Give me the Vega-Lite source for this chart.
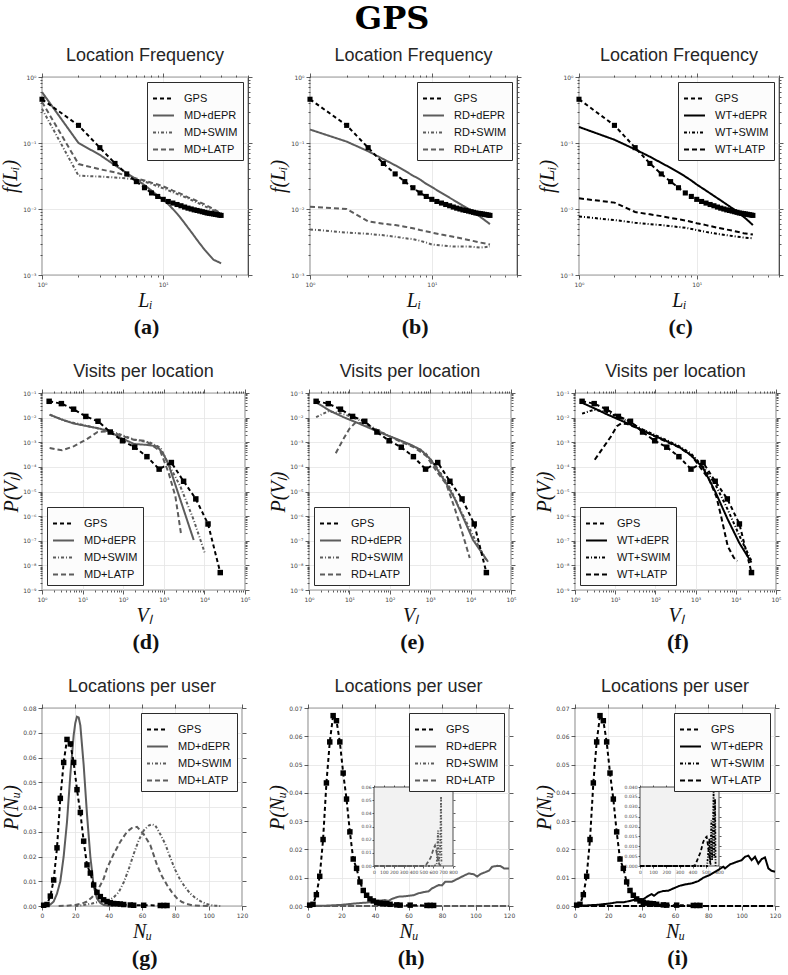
{
"$schema":"https://vega.github.io/schema/vega-lite/v6.json",
"background":"white",
"padding":{"left":0,"top":3,"right":4,"bottom":4},
"title":{"text":"GPS","font":"DejaVu Serif","fontSize":32,"fontWeight":"bold","color":"#000000","anchor":"middle","offset":10},
"config":{
 "view":{"stroke":"#3a3a3a","strokeWidth":1.2},
 "axis":{"domain":false,"gridColor":"#e4e4e4","gridWidth":0.8,"tickColor":"#333333","tickWidth":0.8,"labelFont":"DejaVu Sans","labelFontSize":6,"labelColor":"#444444","labelPadding":2,"titleFont":"Liberation Serif","titleFontStyle":"italic","titleFontWeight":"normal","titleFontSize":20,"titleColor":"#111111","titlePadding":2},
 "title":{"font":"Liberation Sans","fontSize":18,"fontWeight":"normal","color":"#262626"},
 "legend":{"offset":5,"padding":5,"fillColor":"#fcfcfc","strokeColor":"#2b2b2b","labelFont":"Liberation Sans","labelFontSize":11,"labelColor":"#111111","symbolType":"stroke","symbolStrokeWidth":2,"symbolSize":440,"labelOffset":9,"rowPadding":-3}
},
"datasets":{
"gpsLF":[{"s":"GPS","x":1,"y":0.46},{"s":"GPS","x":2,"y":0.185},{"s":"GPS","x":3,"y":0.085},{"s":"GPS","x":4,"y":0.049},{"s":"GPS","x":5,"y":0.034},{"s":"GPS","x":6,"y":0.026},{"s":"GPS","x":7,"y":0.021},{"s":"GPS","x":8,"y":0.0175},{"s":"GPS","x":9,"y":0.0155},{"s":"GPS","x":10,"y":0.014},{"s":"GPS","x":11,"y":0.013},{"s":"GPS","x":12,"y":0.0123},{"s":"GPS","x":13,"y":0.0117},{"s":"GPS","x":14,"y":0.0112},{"s":"GPS","x":15,"y":0.0107},{"s":"GPS","x":16,"y":0.0103},{"s":"GPS","x":17,"y":0.01},{"s":"GPS","x":18,"y":0.0097},{"s":"GPS","x":19,"y":0.0095},{"s":"GPS","x":20,"y":0.0093},{"s":"GPS","x":21,"y":0.0091},{"s":"GPS","x":22,"y":0.0089},{"s":"GPS","x":23,"y":0.0087},{"s":"GPS","x":24,"y":0.0086},{"s":"GPS","x":25,"y":0.0085},{"s":"GPS","x":26,"y":0.0084},{"s":"GPS","x":27,"y":0.0083},{"s":"GPS","x":28,"y":0.0082},{"s":"GPS","x":29,"y":0.0081},{"s":"GPS","x":30,"y":0.008}],
"lf":[
{"p":"a","s":"MD+dEPR","x":1,"y":0.59},{"p":"a","s":"MD+dEPR","x":2,"y":0.1},{"p":"a","s":"MD+dEPR","x":3,"y":0.066},{"p":"a","s":"MD+dEPR","x":4,"y":0.046},{"p":"a","s":"MD+dEPR","x":5,"y":0.035},{"p":"a","s":"MD+dEPR","x":6,"y":0.028},{"p":"a","s":"MD+dEPR","x":7,"y":0.023},{"p":"a","s":"MD+dEPR","x":8,"y":0.019},{"p":"a","s":"MD+dEPR","x":9,"y":0.016},{"p":"a","s":"MD+dEPR","x":10,"y":0.0138},{"p":"a","s":"MD+dEPR","x":11,"y":0.0118},{"p":"a","s":"MD+dEPR","x":12,"y":0.01},{"p":"a","s":"MD+dEPR","x":13,"y":0.0085},{"p":"a","s":"MD+dEPR","x":14,"y":0.0072},{"p":"a","s":"MD+dEPR","x":15,"y":0.0061},{"p":"a","s":"MD+dEPR","x":16,"y":0.0052},{"p":"a","s":"MD+dEPR","x":17,"y":0.0045},{"p":"a","s":"MD+dEPR","x":18,"y":0.0039},{"p":"a","s":"MD+dEPR","x":19,"y":0.0034},{"p":"a","s":"MD+dEPR","x":20,"y":0.003},{"p":"a","s":"MD+dEPR","x":22,"y":0.0024},{"p":"a","s":"MD+dEPR","x":24,"y":0.002},{"p":"a","s":"MD+dEPR","x":26,"y":0.0017},{"p":"a","s":"MD+dEPR","x":28,"y":0.0016},{"p":"a","s":"MD+dEPR","x":30,"y":0.0015},
{"p":"a","s":"MD+SWIM","x":1,"y":0.33},{"p":"a","s":"MD+SWIM","x":2,"y":0.032},{"p":"a","s":"MD+SWIM","x":3,"y":0.031},{"p":"a","s":"MD+SWIM","x":4,"y":0.03},{"p":"a","s":"MD+SWIM","x":5,"y":0.029},{"p":"a","s":"MD+SWIM","x":6,"y":0.028},{"p":"a","s":"MD+SWIM","x":7,"y":0.026},{"p":"a","s":"MD+SWIM","x":8,"y":0.024},{"p":"a","s":"MD+SWIM","x":9,"y":0.022},{"p":"a","s":"MD+SWIM","x":10,"y":0.0205},{"p":"a","s":"MD+SWIM","x":12,"y":0.018},{"p":"a","s":"MD+SWIM","x":14,"y":0.016},{"p":"a","s":"MD+SWIM","x":16,"y":0.0145},{"p":"a","s":"MD+SWIM","x":18,"y":0.013},{"p":"a","s":"MD+SWIM","x":20,"y":0.012},{"p":"a","s":"MD+SWIM","x":22,"y":0.011},{"p":"a","s":"MD+SWIM","x":24,"y":0.0102},{"p":"a","s":"MD+SWIM","x":26,"y":0.0095},{"p":"a","s":"MD+SWIM","x":28,"y":0.0088},{"p":"a","s":"MD+SWIM","x":30,"y":0.0082},
{"p":"a","s":"MD+LATP","x":1,"y":0.42},{"p":"a","s":"MD+LATP","x":2,"y":0.048},{"p":"a","s":"MD+LATP","x":3,"y":0.04},{"p":"a","s":"MD+LATP","x":4,"y":0.036},{"p":"a","s":"MD+LATP","x":5,"y":0.032},{"p":"a","s":"MD+LATP","x":6,"y":0.029},{"p":"a","s":"MD+LATP","x":7,"y":0.027},{"p":"a","s":"MD+LATP","x":8,"y":0.025},{"p":"a","s":"MD+LATP","x":9,"y":0.0235},{"p":"a","s":"MD+LATP","x":10,"y":0.022},{"p":"a","s":"MD+LATP","x":12,"y":0.019},{"p":"a","s":"MD+LATP","x":14,"y":0.017},{"p":"a","s":"MD+LATP","x":16,"y":0.015},{"p":"a","s":"MD+LATP","x":18,"y":0.0138},{"p":"a","s":"MD+LATP","x":20,"y":0.0127},{"p":"a","s":"MD+LATP","x":22,"y":0.0117},{"p":"a","s":"MD+LATP","x":24,"y":0.0108},{"p":"a","s":"MD+LATP","x":26,"y":0.01},{"p":"a","s":"MD+LATP","x":28,"y":0.0092},{"p":"a","s":"MD+LATP","x":30,"y":0.0085},
{"p":"b","s":"RD+dEPR","x":1,"y":0.16},{"p":"b","s":"RD+dEPR","x":2,"y":0.105},{"p":"b","s":"RD+dEPR","x":3,"y":0.075},{"p":"b","s":"RD+dEPR","x":4,"y":0.057},{"p":"b","s":"RD+dEPR","x":5,"y":0.046},{"p":"b","s":"RD+dEPR","x":6,"y":0.038},{"p":"b","s":"RD+dEPR","x":7,"y":0.032},{"p":"b","s":"RD+dEPR","x":8,"y":0.028},{"p":"b","s":"RD+dEPR","x":9,"y":0.024},{"p":"b","s":"RD+dEPR","x":10,"y":0.0215},{"p":"b","s":"RD+dEPR","x":12,"y":0.0175},{"p":"b","s":"RD+dEPR","x":14,"y":0.0148},{"p":"b","s":"RD+dEPR","x":16,"y":0.0128},{"p":"b","s":"RD+dEPR","x":18,"y":0.0112},{"p":"b","s":"RD+dEPR","x":20,"y":0.01},{"p":"b","s":"RD+dEPR","x":22,"y":0.0089},{"p":"b","s":"RD+dEPR","x":24,"y":0.008},{"p":"b","s":"RD+dEPR","x":26,"y":0.0072},{"p":"b","s":"RD+dEPR","x":28,"y":0.0065},{"p":"b","s":"RD+dEPR","x":30,"y":0.0059},
{"p":"b","s":"RD+SWIM","x":1,"y":0.0049},{"p":"b","s":"RD+SWIM","x":2,"y":0.0044},{"p":"b","s":"RD+SWIM","x":3,"y":0.0042},{"p":"b","s":"RD+SWIM","x":4,"y":0.004},{"p":"b","s":"RD+SWIM","x":5,"y":0.0038},{"p":"b","s":"RD+SWIM","x":6,"y":0.0036},{"p":"b","s":"RD+SWIM","x":7,"y":0.0035},{"p":"b","s":"RD+SWIM","x":8,"y":0.0033},{"p":"b","s":"RD+SWIM","x":9,"y":0.0031},{"p":"b","s":"RD+SWIM","x":10,"y":0.0029},{"p":"b","s":"RD+SWIM","x":12,"y":0.0028},{"p":"b","s":"RD+SWIM","x":15,"y":0.0027},{"p":"b","s":"RD+SWIM","x":20,"y":0.0027},{"p":"b","s":"RD+SWIM","x":25,"y":0.0026},{"p":"b","s":"RD+SWIM","x":30,"y":0.0027},
{"p":"b","s":"RD+LATP","x":1,"y":0.0108},{"p":"b","s":"RD+LATP","x":2,"y":0.01},{"p":"b","s":"RD+LATP","x":3,"y":0.0065},{"p":"b","s":"RD+LATP","x":4,"y":0.006},{"p":"b","s":"RD+LATP","x":5,"y":0.0057},{"p":"b","s":"RD+LATP","x":6,"y":0.0054},{"p":"b","s":"RD+LATP","x":7,"y":0.0051},{"p":"b","s":"RD+LATP","x":8,"y":0.0048},{"p":"b","s":"RD+LATP","x":10,"y":0.0044},{"p":"b","s":"RD+LATP","x":12,"y":0.0041},{"p":"b","s":"RD+LATP","x":15,"y":0.0038},{"p":"b","s":"RD+LATP","x":20,"y":0.0034},{"p":"b","s":"RD+LATP","x":25,"y":0.0031},{"p":"b","s":"RD+LATP","x":30,"y":0.0029},
{"p":"c","s":"WT+dEPR","x":1,"y":0.175},{"p":"c","s":"WT+dEPR","x":2,"y":0.112},{"p":"c","s":"WT+dEPR","x":3,"y":0.08},{"p":"c","s":"WT+dEPR","x":4,"y":0.062},{"p":"c","s":"WT+dEPR","x":5,"y":0.05},{"p":"c","s":"WT+dEPR","x":6,"y":0.042},{"p":"c","s":"WT+dEPR","x":7,"y":0.036},{"p":"c","s":"WT+dEPR","x":8,"y":0.031},{"p":"c","s":"WT+dEPR","x":9,"y":0.027},{"p":"c","s":"WT+dEPR","x":10,"y":0.0235},{"p":"c","s":"WT+dEPR","x":12,"y":0.019},{"p":"c","s":"WT+dEPR","x":14,"y":0.0158},{"p":"c","s":"WT+dEPR","x":16,"y":0.0135},{"p":"c","s":"WT+dEPR","x":18,"y":0.0117},{"p":"c","s":"WT+dEPR","x":20,"y":0.0103},{"p":"c","s":"WT+dEPR","x":22,"y":0.0091},{"p":"c","s":"WT+dEPR","x":24,"y":0.0081},{"p":"c","s":"WT+dEPR","x":26,"y":0.0072},{"p":"c","s":"WT+dEPR","x":28,"y":0.0064},{"p":"c","s":"WT+dEPR","x":30,"y":0.0057},
{"p":"c","s":"WT+SWIM","x":1,"y":0.0077},{"p":"c","s":"WT+SWIM","x":2,"y":0.0068},{"p":"c","s":"WT+SWIM","x":3,"y":0.0062},{"p":"c","s":"WT+SWIM","x":4,"y":0.0059},{"p":"c","s":"WT+SWIM","x":5,"y":0.0057},{"p":"c","s":"WT+SWIM","x":6,"y":0.0055},{"p":"c","s":"WT+SWIM","x":8,"y":0.0052},{"p":"c","s":"WT+SWIM","x":10,"y":0.0048},{"p":"c","s":"WT+SWIM","x":12,"y":0.0045},{"p":"c","s":"WT+SWIM","x":15,"y":0.0042},{"p":"c","s":"WT+SWIM","x":20,"y":0.0039},{"p":"c","s":"WT+SWIM","x":25,"y":0.0037},{"p":"c","s":"WT+SWIM","x":30,"y":0.0036},
{"p":"c","s":"WT+LATP","x":1,"y":0.0145},{"p":"c","s":"WT+LATP","x":2,"y":0.0125},{"p":"c","s":"WT+LATP","x":3,"y":0.009},{"p":"c","s":"WT+LATP","x":4,"y":0.0083},{"p":"c","s":"WT+LATP","x":5,"y":0.0078},{"p":"c","s":"WT+LATP","x":6,"y":0.0073},{"p":"c","s":"WT+LATP","x":8,"y":0.0067},{"p":"c","s":"WT+LATP","x":10,"y":0.0061},{"p":"c","s":"WT+LATP","x":12,"y":0.0057},{"p":"c","s":"WT+LATP","x":15,"y":0.0052},{"p":"c","s":"WT+LATP","x":20,"y":0.0047},{"p":"c","s":"WT+LATP","x":25,"y":0.0043},{"p":"c","s":"WT+LATP","x":30,"y":0.0041}
],
"gpsV":[{"s":"GPS","x":1.5,"y":0.046},{"s":"GPS","x":3,"y":0.037},{"s":"GPS","x":6,"y":0.022},{"s":"GPS","x":12,"y":0.0112},{"s":"GPS","x":24,"y":0.0071},{"s":"GPS","x":48,"y":0.0026},{"s":"GPS","x":96,"y":0.00115},{"s":"GPS","x":192,"y":0.00063},{"s":"GPS","x":384,"y":0.00026},{"s":"GPS","x":768,"y":0.000081},{"s":"GPS","x":1536,"y":0.00015},{"s":"GPS","x":3072,"y":0.000026},{"s":"GPS","x":6144,"y":0.000005},{"s":"GPS","x":12288,"y":4.8e-7},{"s":"GPS","x":24576,"y":5.1e-9}],
"vis":[
{"p":"d","s":"MD+dEPR","x":1.54,"y":0.0132},{"p":"d","s":"MD+dEPR","x":3,"y":0.0085},{"p":"d","s":"MD+dEPR","x":6,"y":0.0058},{"p":"d","s":"MD+dEPR","x":13,"y":0.0045},{"p":"d","s":"MD+dEPR","x":28,"y":0.0035},{"p":"d","s":"MD+dEPR","x":50,"y":0.0025},{"p":"d","s":"MD+dEPR","x":96,"y":0.0014},{"p":"d","s":"MD+dEPR","x":185,"y":0.00085},{"p":"d","s":"MD+dEPR","x":390,"y":0.00078},{"p":"d","s":"MD+dEPR","x":690,"y":0.00068},{"p":"d","s":"MD+dEPR","x":1000,"y":0.00031},{"p":"d","s":"MD+dEPR","x":1320,"y":0.00012},{"p":"d","s":"MD+dEPR","x":2560,"y":4.6e-6},{"p":"d","s":"MD+dEPR","x":5450,"y":1.07e-7},
{"p":"d","s":"MD+SWIM","x":1.54,"y":0.0132},{"p":"d","s":"MD+SWIM","x":3.6,"y":0.0075},{"p":"d","s":"MD+SWIM","x":13,"y":0.0046},{"p":"d","s":"MD+SWIM","x":50,"y":0.0028},{"p":"d","s":"MD+SWIM","x":185,"y":0.0013},{"p":"d","s":"MD+SWIM","x":470,"y":0.00095},{"p":"d","s":"MD+SWIM","x":830,"y":0.0006},{"p":"d","s":"MD+SWIM","x":1200,"y":0.00017},{"p":"d","s":"MD+SWIM","x":2560,"y":0.000016},{"p":"d","s":"MD+SWIM","x":5450,"y":7e-7},{"p":"d","s":"MD+SWIM","x":10500,"y":2.8e-8},
{"p":"d","s":"MD+LATP","x":1.54,"y":0.00058},{"p":"d","s":"MD+LATP","x":3.1,"y":0.00047},{"p":"d","s":"MD+LATP","x":6,"y":0.00068},{"p":"d","s":"MD+LATP","x":12,"y":0.00126},{"p":"d","s":"MD+LATP","x":23.5,"y":0.0026},{"p":"d","s":"MD+LATP","x":46,"y":0.0028},{"p":"d","s":"MD+LATP","x":94,"y":0.0018},{"p":"d","s":"MD+LATP","x":182,"y":0.00126},{"p":"d","s":"MD+LATP","x":350,"y":0.00115},{"p":"d","s":"MD+LATP","x":590,"y":0.00064},{"p":"d","s":"MD+LATP","x":830,"y":0.00042},{"p":"d","s":"MD+LATP","x":1320,"y":0.000056},{"p":"d","s":"MD+LATP","x":1930,"y":6.3e-6},{"p":"d","s":"MD+LATP","x":2700,"y":1.6e-7},
{"p":"e","s":"RD+dEPR","x":1.5,"y":0.042},{"p":"e","s":"RD+dEPR","x":3.3,"y":0.019},{"p":"e","s":"RD+dEPR","x":7.1,"y":0.0105},{"p":"e","s":"RD+dEPR","x":18.5,"y":0.0055},{"p":"e","s":"RD+dEPR","x":48,"y":0.0028},{"p":"e","s":"RD+dEPR","x":126,"y":0.0015},{"p":"e","s":"RD+dEPR","x":330,"y":0.00079},{"p":"e","s":"RD+dEPR","x":580,"y":0.0005},{"p":"e","s":"RD+dEPR","x":1040,"y":0.000195},{"p":"e","s":"RD+dEPR","x":1520,"y":0.000076},{"p":"e","s":"RD+dEPR","x":2460,"y":0.000022},{"p":"e","s":"RD+dEPR","x":3980,"y":5.4e-6},{"p":"e","s":"RD+dEPR","x":6400,"y":9.6e-7},{"p":"e","s":"RD+dEPR","x":11500,"y":1.07e-7},{"p":"e","s":"RD+dEPR","x":27000,"y":1.4e-8},
{"p":"e","s":"RD+SWIM","x":1.5,"y":0.0105},{"p":"e","s":"RD+SWIM","x":3,"y":0.018},{"p":"e","s":"RD+SWIM","x":6,"y":0.015},{"p":"e","s":"RD+SWIM","x":12,"y":0.0105},{"p":"e","s":"RD+SWIM","x":24,"y":0.0062},{"p":"e","s":"RD+SWIM","x":48,"y":0.0032},{"p":"e","s":"RD+SWIM","x":96,"y":0.0018},{"p":"e","s":"RD+SWIM","x":192,"y":0.0011},{"p":"e","s":"RD+SWIM","x":384,"y":0.00068},{"p":"e","s":"RD+SWIM","x":768,"y":0.00036},{"p":"e","s":"RD+SWIM","x":1536,"y":0.000085},{"p":"e","s":"RD+SWIM","x":3072,"y":0.000014},{"p":"e","s":"RD+SWIM","x":6144,"y":1.3e-6},{"p":"e","s":"RD+SWIM","x":12288,"y":1.3e-7},{"p":"e","s":"RD+SWIM","x":24576,"y":1.6e-8},
{"p":"e","s":"RD+LATP","x":4.6,"y":0.00036},{"p":"e","s":"RD+LATP","x":7,"y":0.0013},{"p":"e","s":"RD+LATP","x":10,"y":0.0035},{"p":"e","s":"RD+LATP","x":14,"y":0.0062},{"p":"e","s":"RD+LATP","x":20,"y":0.006},{"p":"e","s":"RD+LATP","x":30,"y":0.0045},{"p":"e","s":"RD+LATP","x":50,"y":0.003},{"p":"e","s":"RD+LATP","x":100,"y":0.0017},{"p":"e","s":"RD+LATP","x":200,"y":0.001},{"p":"e","s":"RD+LATP","x":400,"y":0.00062},{"p":"e","s":"RD+LATP","x":800,"y":0.00028},{"p":"e","s":"RD+LATP","x":1500,"y":0.00006},{"p":"e","s":"RD+LATP","x":2500,"y":0.00002},{"p":"e","s":"RD+LATP","x":4000,"y":2.2e-6},{"p":"e","s":"RD+LATP","x":6000,"y":2.6e-7},{"p":"e","s":"RD+LATP","x":9500,"y":2e-8},
{"p":"f","s":"WT+dEPR","x":1.5,"y":0.04},{"p":"f","s":"WT+dEPR","x":3,"y":0.024},{"p":"f","s":"WT+dEPR","x":6,"y":0.014},{"p":"f","s":"WT+dEPR","x":12,"y":0.0085},{"p":"f","s":"WT+dEPR","x":24,"y":0.0052},{"p":"f","s":"WT+dEPR","x":48,"y":0.003},{"p":"f","s":"WT+dEPR","x":96,"y":0.0018},{"p":"f","s":"WT+dEPR","x":192,"y":0.0011},{"p":"f","s":"WT+dEPR","x":384,"y":0.00065},{"p":"f","s":"WT+dEPR","x":768,"y":0.0003},{"p":"f","s":"WT+dEPR","x":1536,"y":0.00009},{"p":"f","s":"WT+dEPR","x":3072,"y":0.00001},{"p":"f","s":"WT+dEPR","x":6144,"y":8e-7},{"p":"f","s":"WT+dEPR","x":12288,"y":8e-8},{"p":"f","s":"WT+dEPR","x":24576,"y":1.3e-8},
{"p":"f","s":"WT+SWIM","x":1.5,"y":0.0145},{"p":"f","s":"WT+SWIM","x":3,"y":0.021},{"p":"f","s":"WT+SWIM","x":6,"y":0.017},{"p":"f","s":"WT+SWIM","x":12,"y":0.0105},{"p":"f","s":"WT+SWIM","x":24,"y":0.0062},{"p":"f","s":"WT+SWIM","x":48,"y":0.0033},{"p":"f","s":"WT+SWIM","x":96,"y":0.002},{"p":"f","s":"WT+SWIM","x":192,"y":0.0012},{"p":"f","s":"WT+SWIM","x":384,"y":0.0007},{"p":"f","s":"WT+SWIM","x":768,"y":0.00035},{"p":"f","s":"WT+SWIM","x":1536,"y":0.0001},{"p":"f","s":"WT+SWIM","x":3072,"y":0.00002},{"p":"f","s":"WT+SWIM","x":6144,"y":2e-6},{"p":"f","s":"WT+SWIM","x":12288,"y":1.6e-7},{"p":"f","s":"WT+SWIM","x":24576,"y":1.5e-8},
{"p":"f","s":"WT+LATP","x":3.1,"y":0.000195},{"p":"f","s":"WT+LATP","x":5,"y":0.0006},{"p":"f","s":"WT+LATP","x":8,"y":0.0018},{"p":"f","s":"WT+LATP","x":11,"y":0.0045},{"p":"f","s":"WT+LATP","x":14,"y":0.0058},{"p":"f","s":"WT+LATP","x":20,"y":0.0055},{"p":"f","s":"WT+LATP","x":30,"y":0.0042},{"p":"f","s":"WT+LATP","x":50,"y":0.0029},{"p":"f","s":"WT+LATP","x":100,"y":0.0017},{"p":"f","s":"WT+LATP","x":200,"y":0.001},{"p":"f","s":"WT+LATP","x":400,"y":0.0006},{"p":"f","s":"WT+LATP","x":800,"y":0.00028},{"p":"f","s":"WT+LATP","x":1500,"y":0.00007},{"p":"f","s":"WT+LATP","x":2200,"y":0.00003},{"p":"f","s":"WT+LATP","x":3300,"y":6e-6},{"p":"f","s":"WT+LATP","x":4300,"y":1e-6},{"p":"f","s":"WT+LATP","x":6300,"y":6e-8},{"p":"f","s":"WT+LATP","x":9000,"y":2e-8},{"p":"f","s":"WT+LATP","x":11000,"y":1.5e-8}
],
"gpsN":[{"s":"GPS","x":1,"y":0.0003},{"s":"GPS","x":3,"y":0.0006},{"s":"GPS","x":5,"y":0.004},{"s":"GPS","x":7,"y":0.0105},{"s":"GPS","x":9,"y":0.0235},{"s":"GPS","x":11,"y":0.0435},{"s":"GPS","x":13,"y":0.058},{"s":"GPS","x":15,"y":0.0673},{"s":"GPS","x":17,"y":0.0655},{"s":"GPS","x":19,"y":0.058},{"s":"GPS","x":21,"y":0.047},{"s":"GPS","x":23,"y":0.0378},{"s":"GPS","x":25,"y":0.0262},{"s":"GPS","x":27,"y":0.0166},{"s":"GPS","x":29,"y":0.0133},{"s":"GPS","x":31,"y":0.0085},{"s":"GPS","x":33,"y":0.0055},{"s":"GPS","x":35,"y":0.0038},{"s":"GPS","x":37,"y":0.0025},{"s":"GPS","x":39,"y":0.0018},{"s":"GPS","x":41,"y":0.0013},{"s":"GPS","x":43,"y":0.001},{"s":"GPS","x":45,"y":0.0009},{"s":"GPS","x":47,"y":0.0008},{"s":"GPS","x":49,"y":0.0006},{"s":"GPS","x":53,"y":0.0004},{"s":"GPS","x":55,"y":0.0003},{"s":"GPS","x":61,"y":0.0003},{"s":"GPS","x":71,"y":0.0002},{"s":"GPS","x":73,"y":0.0002},{"s":"GPS","x":75,"y":0.0002}],
"nu":[
{"p":"g","s":"MD+dEPR","x":0,"y":0},{"p":"g","s":"MD+dEPR","x":3,"y":0.0001},{"p":"g","s":"MD+dEPR","x":5,"y":0.0006},{"p":"g","s":"MD+dEPR","x":7,"y":0.0018},{"p":"g","s":"MD+dEPR","x":9,"y":0.005},{"p":"g","s":"MD+dEPR","x":11,"y":0.01},{"p":"g","s":"MD+dEPR","x":13,"y":0.02},{"p":"g","s":"MD+dEPR","x":15,"y":0.034},{"p":"g","s":"MD+dEPR","x":17,"y":0.053},{"p":"g","s":"MD+dEPR","x":19,"y":0.069},{"p":"g","s":"MD+dEPR","x":20,"y":0.074},{"p":"g","s":"MD+dEPR","x":21,"y":0.0765},{"p":"g","s":"MD+dEPR","x":22,"y":0.0762},{"p":"g","s":"MD+dEPR","x":23,"y":0.073},{"p":"g","s":"MD+dEPR","x":25,"y":0.057},{"p":"g","s":"MD+dEPR","x":27,"y":0.037},{"p":"g","s":"MD+dEPR","x":29,"y":0.02},{"p":"g","s":"MD+dEPR","x":31,"y":0.008},{"p":"g","s":"MD+dEPR","x":33,"y":0.003},{"p":"g","s":"MD+dEPR","x":35,"y":0.0012},{"p":"g","s":"MD+dEPR","x":37,"y":0.0004},{"p":"g","s":"MD+dEPR","x":40,"y":0.0001},{"p":"g","s":"MD+dEPR","x":43,"y":0},
{"p":"g","s":"MD+SWIM","x":20,"y":0},{"p":"g","s":"MD+SWIM","x":25,"y":0.0004},{"p":"g","s":"MD+SWIM","x":30,"y":0.001},{"p":"g","s":"MD+SWIM","x":35,"y":0.0018},{"p":"g","s":"MD+SWIM","x":40,"y":0.0022},{"p":"g","s":"MD+SWIM","x":43,"y":0.0035},{"p":"g","s":"MD+SWIM","x":46,"y":0.0055},{"p":"g","s":"MD+SWIM","x":49,"y":0.0095},{"p":"g","s":"MD+SWIM","x":52,"y":0.0148},{"p":"g","s":"MD+SWIM","x":55,"y":0.021},{"p":"g","s":"MD+SWIM","x":58,"y":0.0265},{"p":"g","s":"MD+SWIM","x":61,"y":0.0305},{"p":"g","s":"MD+SWIM","x":64,"y":0.0325},{"p":"g","s":"MD+SWIM","x":66,"y":0.033},{"p":"g","s":"MD+SWIM","x":68,"y":0.0325},{"p":"g","s":"MD+SWIM","x":71,"y":0.029},{"p":"g","s":"MD+SWIM","x":74,"y":0.025},{"p":"g","s":"MD+SWIM","x":77,"y":0.0195},{"p":"g","s":"MD+SWIM","x":80,"y":0.0145},{"p":"g","s":"MD+SWIM","x":83,"y":0.0105},{"p":"g","s":"MD+SWIM","x":86,"y":0.0075},{"p":"g","s":"MD+SWIM","x":89,"y":0.005},{"p":"g","s":"MD+SWIM","x":92,"y":0.0033},{"p":"g","s":"MD+SWIM","x":95,"y":0.002},{"p":"g","s":"MD+SWIM","x":98,"y":0.001},{"p":"g","s":"MD+SWIM","x":101,"y":0.0004},{"p":"g","s":"MD+SWIM","x":104,"y":0.0001},{"p":"g","s":"MD+SWIM","x":107,"y":0},
{"p":"g","s":"MD+LATP","x":10,"y":0},{"p":"g","s":"MD+LATP","x":15,"y":0.0001},{"p":"g","s":"MD+LATP","x":20,"y":0.0004},{"p":"g","s":"MD+LATP","x":24,"y":0.001},{"p":"g","s":"MD+LATP","x":27,"y":0.0018},{"p":"g","s":"MD+LATP","x":30,"y":0.0035},{"p":"g","s":"MD+LATP","x":34,"y":0.0071},{"p":"g","s":"MD+LATP","x":37,"y":0.011},{"p":"g","s":"MD+LATP","x":39,"y":0.0152},{"p":"g","s":"MD+LATP","x":43,"y":0.021},{"p":"g","s":"MD+LATP","x":47,"y":0.026},{"p":"g","s":"MD+LATP","x":51,"y":0.03},{"p":"g","s":"MD+LATP","x":54,"y":0.0315},{"p":"g","s":"MD+LATP","x":57,"y":0.032},{"p":"g","s":"MD+LATP","x":61,"y":0.029},{"p":"g","s":"MD+LATP","x":65,"y":0.0246},{"p":"g","s":"MD+LATP","x":69,"y":0.0166},{"p":"g","s":"MD+LATP","x":72,"y":0.012},{"p":"g","s":"MD+LATP","x":75,"y":0.0085},{"p":"g","s":"MD+LATP","x":78,"y":0.0055},{"p":"g","s":"MD+LATP","x":81,"y":0.0031},{"p":"g","s":"MD+LATP","x":84,"y":0.0016},{"p":"g","s":"MD+LATP","x":87,"y":0.0008},{"p":"g","s":"MD+LATP","x":90,"y":0.0003},{"p":"g","s":"MD+LATP","x":95,"y":0.0001},{"p":"g","s":"MD+LATP","x":100,"y":0},
{"p":"h","s":"RD+dEPR","x":0,"y":0},{"p":"h","s":"RD+dEPR","x":10,"y":0.0001},{"p":"h","s":"RD+dEPR","x":20,"y":0.0004},{"p":"h","s":"RD+dEPR","x":25,"y":0.0007},{"p":"h","s":"RD+dEPR","x":30,"y":0.001},{"p":"h","s":"RD+dEPR","x":35,"y":0.0012},{"p":"h","s":"RD+dEPR","x":40,"y":0.0015},{"p":"h","s":"RD+dEPR","x":43,"y":0.0019},{"p":"h","s":"RD+dEPR","x":46,"y":0.0021},{"p":"h","s":"RD+dEPR","x":48,"y":0.0018},{"p":"h","s":"RD+dEPR","x":50,"y":0.0025},{"p":"h","s":"RD+dEPR","x":54,"y":0.0033},{"p":"h","s":"RD+dEPR","x":57,"y":0.0034},{"p":"h","s":"RD+dEPR","x":60,"y":0.0036},{"p":"h","s":"RD+dEPR","x":63,"y":0.0038},{"p":"h","s":"RD+dEPR","x":66,"y":0.0045},{"p":"h","s":"RD+dEPR","x":70,"y":0.005},{"p":"h","s":"RD+dEPR","x":72,"y":0.0052},{"p":"h","s":"RD+dEPR","x":74,"y":0.0062},{"p":"h","s":"RD+dEPR","x":78,"y":0.0074},{"p":"h","s":"RD+dEPR","x":80,"y":0.0073},{"p":"h","s":"RD+dEPR","x":82,"y":0.0086},{"p":"h","s":"RD+dEPR","x":86,"y":0.0086},{"p":"h","s":"RD+dEPR","x":88,"y":0.0092},{"p":"h","s":"RD+dEPR","x":90,"y":0.0098},{"p":"h","s":"RD+dEPR","x":94,"y":0.011},{"p":"h","s":"RD+dEPR","x":96,"y":0.0115},{"p":"h","s":"RD+dEPR","x":99,"y":0.0112},{"p":"h","s":"RD+dEPR","x":101,"y":0.0104},{"p":"h","s":"RD+dEPR","x":103,"y":0.0113},{"p":"h","s":"RD+dEPR","x":106,"y":0.012},{"p":"h","s":"RD+dEPR","x":108,"y":0.0125},{"p":"h","s":"RD+dEPR","x":110,"y":0.0139},{"p":"h","s":"RD+dEPR","x":113,"y":0.0142},{"p":"h","s":"RD+dEPR","x":115,"y":0.0141},{"p":"h","s":"RD+dEPR","x":117,"y":0.0133},{"p":"h","s":"RD+dEPR","x":120,"y":0.0133},
{"p":"h","s":"RD+SWIM","x":0,"y":0},{"p":"h","s":"RD+SWIM","x":120,"y":0},{"p":"h","s":"RD+LATP","x":0,"y":0},{"p":"h","s":"RD+LATP","x":120,"y":0},
{"p":"i","s":"WT+dEPR","x":0,"y":0},{"p":"i","s":"WT+dEPR","x":13,"y":0.0004},{"p":"i","s":"WT+dEPR","x":21,"y":0.0009},{"p":"i","s":"WT+dEPR","x":25,"y":0.0013},{"p":"i","s":"WT+dEPR","x":29,"y":0.0013},{"p":"i","s":"WT+dEPR","x":33,"y":0.0018},{"p":"i","s":"WT+dEPR","x":37,"y":0.0024},{"p":"i","s":"WT+dEPR","x":41,"y":0.0024},{"p":"i","s":"WT+dEPR","x":44,"y":0.0036},{"p":"i","s":"WT+dEPR","x":46,"y":0.0042},{"p":"i","s":"WT+dEPR","x":47.4,"y":0.0036},{"p":"i","s":"WT+dEPR","x":50,"y":0.0048},{"p":"i","s":"WT+dEPR","x":53,"y":0.0053},{"p":"i","s":"WT+dEPR","x":56,"y":0.0054},{"p":"i","s":"WT+dEPR","x":59,"y":0.0062},{"p":"i","s":"WT+dEPR","x":63,"y":0.0072},{"p":"i","s":"WT+dEPR","x":66,"y":0.0076},{"p":"i","s":"WT+dEPR","x":70,"y":0.008},{"p":"i","s":"WT+dEPR","x":74,"y":0.0088},{"p":"i","s":"WT+dEPR","x":77,"y":0.01},{"p":"i","s":"WT+dEPR","x":81,"y":0.011},{"p":"i","s":"WT+dEPR","x":85,"y":0.0124},{"p":"i","s":"WT+dEPR","x":89,"y":0.0139},{"p":"i","s":"WT+dEPR","x":90,"y":0.0133},{"p":"i","s":"WT+dEPR","x":93,"y":0.0147},{"p":"i","s":"WT+dEPR","x":97,"y":0.0156},{"p":"i","s":"WT+dEPR","x":100,"y":0.0162},{"p":"i","s":"WT+dEPR","x":102,"y":0.0174},{"p":"i","s":"WT+dEPR","x":104,"y":0.0178},{"p":"i","s":"WT+dEPR","x":106,"y":0.0162},{"p":"i","s":"WT+dEPR","x":108,"y":0.0174},{"p":"i","s":"WT+dEPR","x":110,"y":0.015},{"p":"i","s":"WT+dEPR","x":112,"y":0.0166},{"p":"i","s":"WT+dEPR","x":114,"y":0.0172},{"p":"i","s":"WT+dEPR","x":116,"y":0.0133},{"p":"i","s":"WT+dEPR","x":118,"y":0.0124},{"p":"i","s":"WT+dEPR","x":120,"y":0.0121},
{"p":"i","s":"WT+SWIM","x":0,"y":0},{"p":"i","s":"WT+SWIM","x":120,"y":0},{"p":"i","s":"WT+LATP","x":0,"y":0},{"p":"i","s":"WT+LATP","x":120,"y":0}
],
"ins":[
{"p":"h","s":"LATP","x":0,"y":0},{"p":"h","s":"LATP","x":500,"y":0},{"p":"h","s":"LATP","x":530,"y":0.0012},{"p":"h","s":"LATP","x":555,"y":0.004},{"p":"h","s":"LATP","x":575,"y":0.0065},{"p":"h","s":"LATP","x":590,"y":0.01},{"p":"h","s":"LATP","x":605,"y":0.0135},{"p":"h","s":"LATP","x":618,"y":0.0155},{"p":"h","s":"LATP","x":630,"y":0.012},{"p":"h","s":"LATP","x":640,"y":0.008},{"p":"h","s":"LATP","x":650,"y":0.004},{"p":"h","s":"LATP","x":662,"y":0.0012},{"p":"h","s":"LATP","x":680,"y":0},
{"p":"h","s":"SWIM","x":0,"y":0},{"p":"h","s":"SWIM","x":600,"y":0},{"p":"h","s":"SWIM","x":635,"y":0.001},{"p":"h","s":"SWIM","x":648,"y":0.027},{"p":"h","s":"SWIM","x":656,"y":0.003},{"p":"h","s":"SWIM","x":670,"y":0.012},{"p":"h","s":"SWIM","x":679,"y":0.053},{"p":"h","s":"SWIM","x":683,"y":0.002},
{"p":"i","s":"LATP","x":0,"y":0},{"p":"i","s":"LATP","x":400,"y":0},{"p":"i","s":"LATP","x":420,"y":0.0005},{"p":"i","s":"LATP","x":435,"y":0.003},{"p":"i","s":"LATP","x":461,"y":0.0072},{"p":"i","s":"LATP","x":478,"y":0.0118},{"p":"i","s":"LATP","x":491,"y":0.0139},{"p":"i","s":"LATP","x":506,"y":0.0148},{"p":"i","s":"LATP","x":516,"y":0.0106},{"p":"i","s":"LATP","x":527,"y":0.0047},{"p":"i","s":"LATP","x":534,"y":0.0013},{"p":"i","s":"LATP","x":545,"y":0},
{"p":"i","s":"SWIM","x":0,"y":0},{"p":"i","s":"SWIM","x":510,"y":0},{"p":"i","s":"SWIM","x":527,"y":0.014},{"p":"i","s":"SWIM","x":533,"y":0.002},{"p":"i","s":"SWIM","x":542,"y":0.023},{"p":"i","s":"SWIM","x":548,"y":0.003},{"p":"i","s":"SWIM","x":559,"y":0.0375},{"p":"i","s":"SWIM","x":564,"y":0.004},{"p":"i","s":"SWIM","x":570,"y":0.034},{"p":"i","s":"SWIM","x":574,"y":0}
],
"insbg":[{"p":"h","x1":0,"x2":800,"y1":0,"y2":0.06},{"p":"i","x1":0,"x2":600,"y1":0,"y2":0.04}]
},
"spacing":24,
"resolve":{"scale":{"color":"independent","strokeDash":"independent"},"legend":{"color":"independent","strokeDash":"independent"}},
"vconcat":[
{"hconcat":[
{"vconcat":[{"width":206,"height":198,"title":{"text":"Location Frequency","anchor":"middle","frame":"group","offset":8},
"layer":[
{"data":{"name":"lf"},"transform":[{"filter":"datum.p=='a'"}],"mark":{"type":"line","strokeWidth":2},"encoding":{
"x":{"field":"x","type":"quantitative","scale":{"type":"log","domain":[1,50],"nice":false},"axis":{"values":[1,2,3,4,5,6,7,8,9,10,20,30,40,50],"labelExpr":"abs(log(datum.value)/LN10-round(log(datum.value)/LN10))<0.001?'10'+(round(log(datum.value)/LN10)<0?'⁻':'')+['⁰','¹','²','³','⁴','⁵','⁶','⁷','⁸','⁹'][abs(round(log(datum.value)/LN10))]:''","labelOverlap":false,"labelFlush":false,"tickSize":{"condition":{"test":"abs(log(datum.value)/LN10-round(log(datum.value)/LN10))<0.001","value":4},"value":2},"gridOpacity":{"condition":{"test":"abs(log(datum.value)/LN10-round(log(datum.value)/LN10))<0.001","value":1},"value":0},"title":"Lᵢ","titlePadding":3}},
"y":{"field":"y","type":"quantitative","scale":{"type":"log","domain":[0.001,1],"nice":false},"axis":{"values":[0.001,0.002,0.003,0.004,0.005,0.006,0.007,0.008,0.009,0.01,0.02,0.03,0.04,0.05,0.06,0.07,0.08,0.09,0.1,0.2,0.3,0.4,0.5,0.6,0.7,0.8,0.9,1],"labelExpr":"abs(log(datum.value)/LN10-round(log(datum.value)/LN10))<0.001?'10'+(round(log(datum.value)/LN10)<0?'⁻':'')+['⁰','¹','²','³','⁴','⁵','⁶','⁷','⁸','⁹'][abs(round(log(datum.value)/LN10))]:''","labelOverlap":false,"labelFlush":false,"tickSize":{"condition":{"test":"abs(log(datum.value)/LN10-round(log(datum.value)/LN10))<0.001","value":4},"value":2},"gridOpacity":{"condition":{"test":"abs(log(datum.value)/LN10-round(log(datum.value)/LN10))<0.001","value":1},"value":0},"title":"f(Lᵢ)"}},
"color":{"field":"s","type":"nominal","scale":{"domain":["GPS","MD+dEPR","MD+SWIM","MD+LATP"],"range":["#000000","#5c5c5c","#5c5c5c","#5c5c5c"]},"legend":{"title":null,"orient":"top-right"}},
"strokeDash":{"field":"s","type":"nominal","scale":{"domain":["GPS","MD+dEPR","MD+SWIM","MD+LATP"],"range":[[4,3],[1,0],[3,2,1,2],[5,3]]},"legend":{"title":null,"orient":"top-right"}}}},
{"data":{"name":"gpsLF"},"mark":{"type":"line","strokeWidth":2},"encoding":{"x":{"field":"x","type":"quantitative","axis":null},"y":{"field":"y","type":"quantitative","axis":null},
"color":{"field":"s","type":"nominal","scale":{"domain":["GPS","MD+dEPR","MD+SWIM","MD+LATP"],"range":["#000000","#5c5c5c","#5c5c5c","#5c5c5c"]},"legend":{"title":null,"orient":"top-right"}},
"strokeDash":{"field":"s","type":"nominal","scale":{"domain":["GPS","MD+dEPR","MD+SWIM","MD+LATP"],"range":[[4,3],[1,0],[3,2,1,2],[5,3]]},"legend":{"title":null,"orient":"top-right"}}}},
{"data":{"name":"gpsLF"},"mark":{"type":"square","size":26,"color":"#000000","opacity":1},"encoding":{"x":{"field":"x","type":"quantitative","axis":null},"y":{"field":"y","type":"quantitative","axis":null}}},
{"data":{"name":"gpsLF"},"mark":{"type":"line","opacity":0},"encoding":{"x":{"field":"x","type":"quantitative","axis":{"orient":"top","values":[1,2,3,4,5,6,7,8,9,10,20,30,40,50],"labels":false,"grid":false,"title":null,"tickSize":{"condition":{"test":"abs(log(datum.value)/LN10-round(log(datum.value)/LN10))<0.001","value":4},"value":2}}},"y":{"field":"y","type":"quantitative","axis":{"orient":"right","values":[0.001,0.002,0.003,0.004,0.005,0.006,0.007,0.008,0.009,0.01,0.02,0.03,0.04,0.05,0.06,0.07,0.08,0.09,0.1,0.2,0.3,0.4,0.5,0.6,0.7,0.8,0.9,1],"labels":false,"grid":false,"title":null,"tickSize":{"condition":{"test":"abs(log(datum.value)/LN10-round(log(datum.value)/LN10))<0.001","value":4},"value":2}}}}}
],
"resolve":{"axis":{"x":"independent","y":"independent"}}}],
"resolve":{"scale":{"color":"independent","strokeDash":"independent"},"legend":{"color":"independent","strokeDash":"independent"}},
"title":{"text":"(a)","orient":"bottom","anchor":"middle","font":"Liberation Serif","fontWeight":"bold","fontSize":22,"color":"#111111","offset":6,"dx":20}},
{"vconcat":[{"width":207,"height":198,"title":{"text":"Location Frequency","anchor":"middle","frame":"group","offset":8},
"layer":[
{"data":{"name":"lf"},"transform":[{"filter":"datum.p=='b'"}],"mark":{"type":"line","strokeWidth":2},"encoding":{
"x":{"field":"x","type":"quantitative","scale":{"type":"log","domain":[1,50],"nice":false},"axis":{"values":[1,2,3,4,5,6,7,8,9,10,20,30,40,50],"labelExpr":"abs(log(datum.value)/LN10-round(log(datum.value)/LN10))<0.001?'10'+(round(log(datum.value)/LN10)<0?'⁻':'')+['⁰','¹','²','³','⁴','⁵','⁶','⁷','⁸','⁹'][abs(round(log(datum.value)/LN10))]:''","labelOverlap":false,"labelFlush":false,"tickSize":{"condition":{"test":"abs(log(datum.value)/LN10-round(log(datum.value)/LN10))<0.001","value":4},"value":2},"gridOpacity":{"condition":{"test":"abs(log(datum.value)/LN10-round(log(datum.value)/LN10))<0.001","value":1},"value":0},"title":"Lᵢ","titlePadding":3}},
"y":{"field":"y","type":"quantitative","scale":{"type":"log","domain":[0.001,1],"nice":false},"axis":{"values":[0.001,0.002,0.003,0.004,0.005,0.006,0.007,0.008,0.009,0.01,0.02,0.03,0.04,0.05,0.06,0.07,0.08,0.09,0.1,0.2,0.3,0.4,0.5,0.6,0.7,0.8,0.9,1],"labelExpr":"abs(log(datum.value)/LN10-round(log(datum.value)/LN10))<0.001?'10'+(round(log(datum.value)/LN10)<0?'⁻':'')+['⁰','¹','²','³','⁴','⁵','⁶','⁷','⁸','⁹'][abs(round(log(datum.value)/LN10))]:''","labelOverlap":false,"labelFlush":false,"tickSize":{"condition":{"test":"abs(log(datum.value)/LN10-round(log(datum.value)/LN10))<0.001","value":4},"value":2},"gridOpacity":{"condition":{"test":"abs(log(datum.value)/LN10-round(log(datum.value)/LN10))<0.001","value":1},"value":0},"title":"f(Lᵢ)"}},
"color":{"field":"s","type":"nominal","scale":{"domain":["GPS","RD+dEPR","RD+SWIM","RD+LATP"],"range":["#000000","#5c5c5c","#5c5c5c","#5c5c5c"]},"legend":{"title":null,"orient":"top-right"}},
"strokeDash":{"field":"s","type":"nominal","scale":{"domain":["GPS","RD+dEPR","RD+SWIM","RD+LATP"],"range":[[4,3],[1,0],[3,2,1,2],[5,3]]},"legend":{"title":null,"orient":"top-right"}}}},
{"data":{"name":"gpsLF"},"mark":{"type":"line","strokeWidth":2},"encoding":{"x":{"field":"x","type":"quantitative","axis":null},"y":{"field":"y","type":"quantitative","axis":null},
"color":{"field":"s","type":"nominal","scale":{"domain":["GPS","RD+dEPR","RD+SWIM","RD+LATP"],"range":["#000000","#5c5c5c","#5c5c5c","#5c5c5c"]},"legend":{"title":null,"orient":"top-right"}},
"strokeDash":{"field":"s","type":"nominal","scale":{"domain":["GPS","RD+dEPR","RD+SWIM","RD+LATP"],"range":[[4,3],[1,0],[3,2,1,2],[5,3]]},"legend":{"title":null,"orient":"top-right"}}}},
{"data":{"name":"gpsLF"},"mark":{"type":"square","size":26,"color":"#000000","opacity":1},"encoding":{"x":{"field":"x","type":"quantitative","axis":null},"y":{"field":"y","type":"quantitative","axis":null}}},
{"data":{"name":"gpsLF"},"mark":{"type":"line","opacity":0},"encoding":{"x":{"field":"x","type":"quantitative","axis":{"orient":"top","values":[1,2,3,4,5,6,7,8,9,10,20,30,40,50],"labels":false,"grid":false,"title":null,"tickSize":{"condition":{"test":"abs(log(datum.value)/LN10-round(log(datum.value)/LN10))<0.001","value":4},"value":2}}},"y":{"field":"y","type":"quantitative","axis":{"orient":"right","values":[0.001,0.002,0.003,0.004,0.005,0.006,0.007,0.008,0.009,0.01,0.02,0.03,0.04,0.05,0.06,0.07,0.08,0.09,0.1,0.2,0.3,0.4,0.5,0.6,0.7,0.8,0.9,1],"labels":false,"grid":false,"title":null,"tickSize":{"condition":{"test":"abs(log(datum.value)/LN10-round(log(datum.value)/LN10))<0.001","value":4},"value":2}}}}}
],
"resolve":{"axis":{"x":"independent","y":"independent"}}}],
"resolve":{"scale":{"color":"independent","strokeDash":"independent"},"legend":{"color":"independent","strokeDash":"independent"}},
"title":{"text":"(b)","orient":"bottom","anchor":"middle","font":"Liberation Serif","fontWeight":"bold","fontSize":22,"color":"#111111","offset":6,"dx":20}},
{"vconcat":[{"width":200,"height":198,"title":{"text":"Location Frequency","anchor":"middle","frame":"group","offset":8},
"layer":[
{"data":{"name":"lf"},"transform":[{"filter":"datum.p=='c'"}],"mark":{"type":"line","strokeWidth":2},"encoding":{
"x":{"field":"x","type":"quantitative","scale":{"type":"log","domain":[1,50],"nice":false},"axis":{"values":[1,2,3,4,5,6,7,8,9,10,20,30,40,50],"labelExpr":"abs(log(datum.value)/LN10-round(log(datum.value)/LN10))<0.001?'10'+(round(log(datum.value)/LN10)<0?'⁻':'')+['⁰','¹','²','³','⁴','⁵','⁶','⁷','⁸','⁹'][abs(round(log(datum.value)/LN10))]:''","labelOverlap":false,"labelFlush":false,"tickSize":{"condition":{"test":"abs(log(datum.value)/LN10-round(log(datum.value)/LN10))<0.001","value":4},"value":2},"gridOpacity":{"condition":{"test":"abs(log(datum.value)/LN10-round(log(datum.value)/LN10))<0.001","value":1},"value":0},"title":"Lᵢ","titlePadding":3}},
"y":{"field":"y","type":"quantitative","scale":{"type":"log","domain":[0.001,1],"nice":false},"axis":{"values":[0.001,0.002,0.003,0.004,0.005,0.006,0.007,0.008,0.009,0.01,0.02,0.03,0.04,0.05,0.06,0.07,0.08,0.09,0.1,0.2,0.3,0.4,0.5,0.6,0.7,0.8,0.9,1],"labelExpr":"abs(log(datum.value)/LN10-round(log(datum.value)/LN10))<0.001?'10'+(round(log(datum.value)/LN10)<0?'⁻':'')+['⁰','¹','²','³','⁴','⁵','⁶','⁷','⁸','⁹'][abs(round(log(datum.value)/LN10))]:''","labelOverlap":false,"labelFlush":false,"tickSize":{"condition":{"test":"abs(log(datum.value)/LN10-round(log(datum.value)/LN10))<0.001","value":4},"value":2},"gridOpacity":{"condition":{"test":"abs(log(datum.value)/LN10-round(log(datum.value)/LN10))<0.001","value":1},"value":0},"title":"f(Lᵢ)"}},
"color":{"field":"s","type":"nominal","scale":{"domain":["GPS","WT+dEPR","WT+SWIM","WT+LATP"],"range":["#000000","#000000","#000000","#000000"]},"legend":{"title":null,"orient":"top-right"}},
"strokeDash":{"field":"s","type":"nominal","scale":{"domain":["GPS","WT+dEPR","WT+SWIM","WT+LATP"],"range":[[4,3],[1,0],[3,2,1,2],[5,3]]},"legend":{"title":null,"orient":"top-right"}}}},
{"data":{"name":"gpsLF"},"mark":{"type":"line","strokeWidth":2},"encoding":{"x":{"field":"x","type":"quantitative","axis":null},"y":{"field":"y","type":"quantitative","axis":null},
"color":{"field":"s","type":"nominal","scale":{"domain":["GPS","WT+dEPR","WT+SWIM","WT+LATP"],"range":["#000000","#000000","#000000","#000000"]},"legend":{"title":null,"orient":"top-right"}},
"strokeDash":{"field":"s","type":"nominal","scale":{"domain":["GPS","WT+dEPR","WT+SWIM","WT+LATP"],"range":[[4,3],[1,0],[3,2,1,2],[5,3]]},"legend":{"title":null,"orient":"top-right"}}}},
{"data":{"name":"gpsLF"},"mark":{"type":"square","size":26,"color":"#000000","opacity":1},"encoding":{"x":{"field":"x","type":"quantitative","axis":null},"y":{"field":"y","type":"quantitative","axis":null}}},
{"data":{"name":"gpsLF"},"mark":{"type":"line","opacity":0},"encoding":{"x":{"field":"x","type":"quantitative","axis":{"orient":"top","values":[1,2,3,4,5,6,7,8,9,10,20,30,40,50],"labels":false,"grid":false,"title":null,"tickSize":{"condition":{"test":"abs(log(datum.value)/LN10-round(log(datum.value)/LN10))<0.001","value":4},"value":2}}},"y":{"field":"y","type":"quantitative","axis":{"orient":"right","values":[0.001,0.002,0.003,0.004,0.005,0.006,0.007,0.008,0.009,0.01,0.02,0.03,0.04,0.05,0.06,0.07,0.08,0.09,0.1,0.2,0.3,0.4,0.5,0.6,0.7,0.8,0.9,1],"labels":false,"grid":false,"title":null,"tickSize":{"condition":{"test":"abs(log(datum.value)/LN10-round(log(datum.value)/LN10))<0.001","value":4},"value":2}}}}}
],
"resolve":{"axis":{"x":"independent","y":"independent"}}}],
"resolve":{"scale":{"color":"independent","strokeDash":"independent"},"legend":{"color":"independent","strokeDash":"independent"}},
"title":{"text":"(c)","orient":"bottom","anchor":"middle","font":"Liberation Serif","fontWeight":"bold","fontSize":22,"color":"#111111","offset":6,"dx":20}}
],"spacing":15,"resolve":{"scale":{"color":"independent","strokeDash":"independent"},"legend":{"color":"independent","strokeDash":"independent"}}},
{"hconcat":[
{"vconcat":[{"width":203,"height":197,"title":{"text":"Visits per location","anchor":"middle","frame":"group","offset":8},
"layer":[
{"data":{"name":"vis"},"transform":[{"filter":"datum.p=='d'"}],"mark":{"type":"line","strokeWidth":2},"encoding":{
"x":{"field":"x","type":"quantitative","scale":{"type":"log","domain":[1,100000],"nice":false},"axis":{"values":[1,2,3,4,5,6,7,8,9,10,20,30,40,50,60,70,80,90,100,200,300,400,500,600,700,800,900,1000,2000,3000,4000,5000,6000,7000,8000,9000,10000,20000,30000,40000,50000,60000,70000,80000,90000,100000],"labelExpr":"abs(log(datum.value)/LN10-round(log(datum.value)/LN10))<0.001?'10'+(round(log(datum.value)/LN10)<0?'⁻':'')+['⁰','¹','²','³','⁴','⁵','⁶','⁷','⁸','⁹'][abs(round(log(datum.value)/LN10))]:''","labelOverlap":false,"labelFlush":false,"tickSize":{"condition":{"test":"abs(log(datum.value)/LN10-round(log(datum.value)/LN10))<0.001","value":4},"value":2},"gridOpacity":{"condition":{"test":"abs(log(datum.value)/LN10-round(log(datum.value)/LN10))<0.001","value":1},"value":0},"title":"Vₗ","titlePadding":3}},
"y":{"field":"y","type":"quantitative","scale":{"type":"log","domain":[1e-9,0.1],"nice":false},"axis":{"values":[1e-9,2e-9,3e-9,4e-9,5e-9,6e-9,7e-9,8e-9,9e-9,1e-8,2e-8,3e-8,4e-8,5e-8,6e-8,7e-8,8e-8,9e-8,1e-7,2e-7,3e-7,4e-7,5e-7,6e-7,7e-7,8e-7,9e-7,1e-6,2e-6,3e-6,4e-6,5e-6,6e-6,7e-6,8e-6,9e-6,1e-5,2e-5,3e-5,4e-5,5e-5,6e-5,7e-5,8e-5,9e-5,0.0001,0.0002,0.0003,0.0004,0.0005,0.0006,0.0007,0.0008,0.0009,0.001,0.002,0.003,0.004,0.005,0.006,0.007,0.008,0.009,0.01,0.02,0.03,0.04,0.05,0.06,0.07,0.08,0.09,0.1],"labelExpr":"abs(log(datum.value)/LN10-round(log(datum.value)/LN10))<0.001?'10'+(round(log(datum.value)/LN10)<0?'⁻':'')+['⁰','¹','²','³','⁴','⁵','⁶','⁷','⁸','⁹'][abs(round(log(datum.value)/LN10))]:''","labelOverlap":false,"labelFlush":false,"tickSize":{"condition":{"test":"abs(log(datum.value)/LN10-round(log(datum.value)/LN10))<0.001","value":4},"value":2},"gridOpacity":{"condition":{"test":"abs(log(datum.value)/LN10-round(log(datum.value)/LN10))<0.001","value":1},"value":0},"title":"P(Vₗ)","titlePadding":1}},
"color":{"field":"s","type":"nominal","scale":{"domain":["GPS","MD+dEPR","MD+SWIM","MD+LATP"],"range":["#000000","#5c5c5c","#5c5c5c","#5c5c5c"]},"legend":{"title":null,"orient":"bottom-left"}},
"strokeDash":{"field":"s","type":"nominal","scale":{"domain":["GPS","MD+dEPR","MD+SWIM","MD+LATP"],"range":[[4,3],[1,0],[3,2,1,2],[5,3]]},"legend":{"title":null,"orient":"bottom-left"}}}},
{"data":{"name":"gpsV"},"mark":{"type":"line","strokeWidth":2},"encoding":{"x":{"field":"x","type":"quantitative","axis":null},"y":{"field":"y","type":"quantitative","axis":null},
"color":{"field":"s","type":"nominal","scale":{"domain":["GPS","MD+dEPR","MD+SWIM","MD+LATP"],"range":["#000000","#5c5c5c","#5c5c5c","#5c5c5c"]},"legend":{"title":null,"orient":"bottom-left"}},
"strokeDash":{"field":"s","type":"nominal","scale":{"domain":["GPS","MD+dEPR","MD+SWIM","MD+LATP"],"range":[[4,3],[1,0],[3,2,1,2],[5,3]]},"legend":{"title":null,"orient":"bottom-left"}}}},
{"data":{"name":"gpsV"},"mark":{"type":"square","size":30,"color":"#000000","opacity":1},"encoding":{"x":{"field":"x","type":"quantitative","axis":null},"y":{"field":"y","type":"quantitative","axis":null}}},
{"data":{"name":"gpsV"},"mark":{"type":"line","opacity":0},"encoding":{"x":{"field":"x","type":"quantitative","axis":{"orient":"top","values":[1,2,3,4,5,6,7,8,9,10,20,30,40,50,60,70,80,90,100,200,300,400,500,600,700,800,900,1000,2000,3000,4000,5000,6000,7000,8000,9000,10000,20000,30000,40000,50000,60000,70000,80000,90000,100000],"labels":false,"grid":false,"title":null,"tickSize":{"condition":{"test":"abs(log(datum.value)/LN10-round(log(datum.value)/LN10))<0.001","value":4},"value":2}}},"y":{"field":"y","type":"quantitative","axis":{"orient":"right","values":[1e-9,2e-9,3e-9,4e-9,5e-9,6e-9,7e-9,8e-9,9e-9,1e-8,2e-8,3e-8,4e-8,5e-8,6e-8,7e-8,8e-8,9e-8,1e-7,2e-7,3e-7,4e-7,5e-7,6e-7,7e-7,8e-7,9e-7,1e-6,2e-6,3e-6,4e-6,5e-6,6e-6,7e-6,8e-6,9e-6,1e-5,2e-5,3e-5,4e-5,5e-5,6e-5,7e-5,8e-5,9e-5,0.0001,0.0002,0.0003,0.0004,0.0005,0.0006,0.0007,0.0008,0.0009,0.001,0.002,0.003,0.004,0.005,0.006,0.007,0.008,0.009,0.01,0.02,0.03,0.04,0.05,0.06,0.07,0.08,0.09,0.1],"labels":false,"grid":false,"title":null,"tickSize":{"condition":{"test":"abs(log(datum.value)/LN10-round(log(datum.value)/LN10))<0.001","value":4},"value":2}}}}}
],
"resolve":{"axis":{"x":"independent","y":"independent"}}}],
"resolve":{"scale":{"color":"independent","strokeDash":"independent"},"legend":{"color":"independent","strokeDash":"independent"}},
"title":{"text":"(d)","orient":"bottom","anchor":"middle","font":"Liberation Serif","fontWeight":"bold","fontSize":22,"color":"#111111","offset":6,"dx":20}},
{"vconcat":[{"width":202,"height":197,"title":{"text":"Visits per location","anchor":"middle","frame":"group","offset":8},
"layer":[
{"data":{"name":"vis"},"transform":[{"filter":"datum.p=='e'"}],"mark":{"type":"line","strokeWidth":2},"encoding":{
"x":{"field":"x","type":"quantitative","scale":{"type":"log","domain":[1,100000],"nice":false},"axis":{"values":[1,2,3,4,5,6,7,8,9,10,20,30,40,50,60,70,80,90,100,200,300,400,500,600,700,800,900,1000,2000,3000,4000,5000,6000,7000,8000,9000,10000,20000,30000,40000,50000,60000,70000,80000,90000,100000],"labelExpr":"abs(log(datum.value)/LN10-round(log(datum.value)/LN10))<0.001?'10'+(round(log(datum.value)/LN10)<0?'⁻':'')+['⁰','¹','²','³','⁴','⁵','⁶','⁷','⁸','⁹'][abs(round(log(datum.value)/LN10))]:''","labelOverlap":false,"labelFlush":false,"tickSize":{"condition":{"test":"abs(log(datum.value)/LN10-round(log(datum.value)/LN10))<0.001","value":4},"value":2},"gridOpacity":{"condition":{"test":"abs(log(datum.value)/LN10-round(log(datum.value)/LN10))<0.001","value":1},"value":0},"title":"Vₗ","titlePadding":3}},
"y":{"field":"y","type":"quantitative","scale":{"type":"log","domain":[1e-9,0.1],"nice":false},"axis":{"values":[1e-9,2e-9,3e-9,4e-9,5e-9,6e-9,7e-9,8e-9,9e-9,1e-8,2e-8,3e-8,4e-8,5e-8,6e-8,7e-8,8e-8,9e-8,1e-7,2e-7,3e-7,4e-7,5e-7,6e-7,7e-7,8e-7,9e-7,1e-6,2e-6,3e-6,4e-6,5e-6,6e-6,7e-6,8e-6,9e-6,1e-5,2e-5,3e-5,4e-5,5e-5,6e-5,7e-5,8e-5,9e-5,0.0001,0.0002,0.0003,0.0004,0.0005,0.0006,0.0007,0.0008,0.0009,0.001,0.002,0.003,0.004,0.005,0.006,0.007,0.008,0.009,0.01,0.02,0.03,0.04,0.05,0.06,0.07,0.08,0.09,0.1],"labelExpr":"abs(log(datum.value)/LN10-round(log(datum.value)/LN10))<0.001?'10'+(round(log(datum.value)/LN10)<0?'⁻':'')+['⁰','¹','²','³','⁴','⁵','⁶','⁷','⁸','⁹'][abs(round(log(datum.value)/LN10))]:''","labelOverlap":false,"labelFlush":false,"tickSize":{"condition":{"test":"abs(log(datum.value)/LN10-round(log(datum.value)/LN10))<0.001","value":4},"value":2},"gridOpacity":{"condition":{"test":"abs(log(datum.value)/LN10-round(log(datum.value)/LN10))<0.001","value":1},"value":0},"title":"P(Vₗ)","titlePadding":1}},
"color":{"field":"s","type":"nominal","scale":{"domain":["GPS","RD+dEPR","RD+SWIM","RD+LATP"],"range":["#000000","#5c5c5c","#5c5c5c","#5c5c5c"]},"legend":{"title":null,"orient":"bottom-left"}},
"strokeDash":{"field":"s","type":"nominal","scale":{"domain":["GPS","RD+dEPR","RD+SWIM","RD+LATP"],"range":[[4,3],[1,0],[3,2,1,2],[5,3]]},"legend":{"title":null,"orient":"bottom-left"}}}},
{"data":{"name":"gpsV"},"mark":{"type":"line","strokeWidth":2},"encoding":{"x":{"field":"x","type":"quantitative","axis":null},"y":{"field":"y","type":"quantitative","axis":null},
"color":{"field":"s","type":"nominal","scale":{"domain":["GPS","RD+dEPR","RD+SWIM","RD+LATP"],"range":["#000000","#5c5c5c","#5c5c5c","#5c5c5c"]},"legend":{"title":null,"orient":"bottom-left"}},
"strokeDash":{"field":"s","type":"nominal","scale":{"domain":["GPS","RD+dEPR","RD+SWIM","RD+LATP"],"range":[[4,3],[1,0],[3,2,1,2],[5,3]]},"legend":{"title":null,"orient":"bottom-left"}}}},
{"data":{"name":"gpsV"},"mark":{"type":"square","size":30,"color":"#000000","opacity":1},"encoding":{"x":{"field":"x","type":"quantitative","axis":null},"y":{"field":"y","type":"quantitative","axis":null}}},
{"data":{"name":"gpsV"},"mark":{"type":"line","opacity":0},"encoding":{"x":{"field":"x","type":"quantitative","axis":{"orient":"top","values":[1,2,3,4,5,6,7,8,9,10,20,30,40,50,60,70,80,90,100,200,300,400,500,600,700,800,900,1000,2000,3000,4000,5000,6000,7000,8000,9000,10000,20000,30000,40000,50000,60000,70000,80000,90000,100000],"labels":false,"grid":false,"title":null,"tickSize":{"condition":{"test":"abs(log(datum.value)/LN10-round(log(datum.value)/LN10))<0.001","value":4},"value":2}}},"y":{"field":"y","type":"quantitative","axis":{"orient":"right","values":[1e-9,2e-9,3e-9,4e-9,5e-9,6e-9,7e-9,8e-9,9e-9,1e-8,2e-8,3e-8,4e-8,5e-8,6e-8,7e-8,8e-8,9e-8,1e-7,2e-7,3e-7,4e-7,5e-7,6e-7,7e-7,8e-7,9e-7,1e-6,2e-6,3e-6,4e-6,5e-6,6e-6,7e-6,8e-6,9e-6,1e-5,2e-5,3e-5,4e-5,5e-5,6e-5,7e-5,8e-5,9e-5,0.0001,0.0002,0.0003,0.0004,0.0005,0.0006,0.0007,0.0008,0.0009,0.001,0.002,0.003,0.004,0.005,0.006,0.007,0.008,0.009,0.01,0.02,0.03,0.04,0.05,0.06,0.07,0.08,0.09,0.1],"labels":false,"grid":false,"title":null,"tickSize":{"condition":{"test":"abs(log(datum.value)/LN10-round(log(datum.value)/LN10))<0.001","value":4},"value":2}}}}}
],
"resolve":{"axis":{"x":"independent","y":"independent"}}}],
"resolve":{"scale":{"color":"independent","strokeDash":"independent"},"legend":{"color":"independent","strokeDash":"independent"}},
"title":{"text":"(e)","orient":"bottom","anchor":"middle","font":"Liberation Serif","fontWeight":"bold","fontSize":22,"color":"#111111","offset":6,"dx":20}},
{"vconcat":[{"width":201,"height":197,"title":{"text":"Visits per location","anchor":"middle","frame":"group","offset":8},
"layer":[
{"data":{"name":"vis"},"transform":[{"filter":"datum.p=='f'"}],"mark":{"type":"line","strokeWidth":2},"encoding":{
"x":{"field":"x","type":"quantitative","scale":{"type":"log","domain":[1,100000],"nice":false},"axis":{"values":[1,2,3,4,5,6,7,8,9,10,20,30,40,50,60,70,80,90,100,200,300,400,500,600,700,800,900,1000,2000,3000,4000,5000,6000,7000,8000,9000,10000,20000,30000,40000,50000,60000,70000,80000,90000,100000],"labelExpr":"abs(log(datum.value)/LN10-round(log(datum.value)/LN10))<0.001?'10'+(round(log(datum.value)/LN10)<0?'⁻':'')+['⁰','¹','²','³','⁴','⁵','⁶','⁷','⁸','⁹'][abs(round(log(datum.value)/LN10))]:''","labelOverlap":false,"labelFlush":false,"tickSize":{"condition":{"test":"abs(log(datum.value)/LN10-round(log(datum.value)/LN10))<0.001","value":4},"value":2},"gridOpacity":{"condition":{"test":"abs(log(datum.value)/LN10-round(log(datum.value)/LN10))<0.001","value":1},"value":0},"title":"Vₗ","titlePadding":3}},
"y":{"field":"y","type":"quantitative","scale":{"type":"log","domain":[1e-9,0.1],"nice":false},"axis":{"values":[1e-9,2e-9,3e-9,4e-9,5e-9,6e-9,7e-9,8e-9,9e-9,1e-8,2e-8,3e-8,4e-8,5e-8,6e-8,7e-8,8e-8,9e-8,1e-7,2e-7,3e-7,4e-7,5e-7,6e-7,7e-7,8e-7,9e-7,1e-6,2e-6,3e-6,4e-6,5e-6,6e-6,7e-6,8e-6,9e-6,1e-5,2e-5,3e-5,4e-5,5e-5,6e-5,7e-5,8e-5,9e-5,0.0001,0.0002,0.0003,0.0004,0.0005,0.0006,0.0007,0.0008,0.0009,0.001,0.002,0.003,0.004,0.005,0.006,0.007,0.008,0.009,0.01,0.02,0.03,0.04,0.05,0.06,0.07,0.08,0.09,0.1],"labelExpr":"abs(log(datum.value)/LN10-round(log(datum.value)/LN10))<0.001?'10'+(round(log(datum.value)/LN10)<0?'⁻':'')+['⁰','¹','²','³','⁴','⁵','⁶','⁷','⁸','⁹'][abs(round(log(datum.value)/LN10))]:''","labelOverlap":false,"labelFlush":false,"tickSize":{"condition":{"test":"abs(log(datum.value)/LN10-round(log(datum.value)/LN10))<0.001","value":4},"value":2},"gridOpacity":{"condition":{"test":"abs(log(datum.value)/LN10-round(log(datum.value)/LN10))<0.001","value":1},"value":0},"title":"P(Vₗ)","titlePadding":1}},
"color":{"field":"s","type":"nominal","scale":{"domain":["GPS","WT+dEPR","WT+SWIM","WT+LATP"],"range":["#000000","#000000","#000000","#000000"]},"legend":{"title":null,"orient":"bottom-left"}},
"strokeDash":{"field":"s","type":"nominal","scale":{"domain":["GPS","WT+dEPR","WT+SWIM","WT+LATP"],"range":[[4,3],[1,0],[3,2,1,2],[5,3]]},"legend":{"title":null,"orient":"bottom-left"}}}},
{"data":{"name":"gpsV"},"mark":{"type":"line","strokeWidth":2},"encoding":{"x":{"field":"x","type":"quantitative","axis":null},"y":{"field":"y","type":"quantitative","axis":null},
"color":{"field":"s","type":"nominal","scale":{"domain":["GPS","WT+dEPR","WT+SWIM","WT+LATP"],"range":["#000000","#000000","#000000","#000000"]},"legend":{"title":null,"orient":"bottom-left"}},
"strokeDash":{"field":"s","type":"nominal","scale":{"domain":["GPS","WT+dEPR","WT+SWIM","WT+LATP"],"range":[[4,3],[1,0],[3,2,1,2],[5,3]]},"legend":{"title":null,"orient":"bottom-left"}}}},
{"data":{"name":"gpsV"},"mark":{"type":"square","size":30,"color":"#000000","opacity":1},"encoding":{"x":{"field":"x","type":"quantitative","axis":null},"y":{"field":"y","type":"quantitative","axis":null}}},
{"data":{"name":"gpsV"},"mark":{"type":"line","opacity":0},"encoding":{"x":{"field":"x","type":"quantitative","axis":{"orient":"top","values":[1,2,3,4,5,6,7,8,9,10,20,30,40,50,60,70,80,90,100,200,300,400,500,600,700,800,900,1000,2000,3000,4000,5000,6000,7000,8000,9000,10000,20000,30000,40000,50000,60000,70000,80000,90000,100000],"labels":false,"grid":false,"title":null,"tickSize":{"condition":{"test":"abs(log(datum.value)/LN10-round(log(datum.value)/LN10))<0.001","value":4},"value":2}}},"y":{"field":"y","type":"quantitative","axis":{"orient":"right","values":[1e-9,2e-9,3e-9,4e-9,5e-9,6e-9,7e-9,8e-9,9e-9,1e-8,2e-8,3e-8,4e-8,5e-8,6e-8,7e-8,8e-8,9e-8,1e-7,2e-7,3e-7,4e-7,5e-7,6e-7,7e-7,8e-7,9e-7,1e-6,2e-6,3e-6,4e-6,5e-6,6e-6,7e-6,8e-6,9e-6,1e-5,2e-5,3e-5,4e-5,5e-5,6e-5,7e-5,8e-5,9e-5,0.0001,0.0002,0.0003,0.0004,0.0005,0.0006,0.0007,0.0008,0.0009,0.001,0.002,0.003,0.004,0.005,0.006,0.007,0.008,0.009,0.01,0.02,0.03,0.04,0.05,0.06,0.07,0.08,0.09,0.1],"labels":false,"grid":false,"title":null,"tickSize":{"condition":{"test":"abs(log(datum.value)/LN10-round(log(datum.value)/LN10))<0.001","value":4},"value":2}}}}}
],
"resolve":{"axis":{"x":"independent","y":"independent"}}}],
"resolve":{"scale":{"color":"independent","strokeDash":"independent"},"legend":{"color":"independent","strokeDash":"independent"}},
"title":{"text":"(f)","orient":"bottom","anchor":"middle","font":"Liberation Serif","fontWeight":"bold","fontSize":22,"color":"#111111","offset":6,"dx":20}}
],"spacing":17,"resolve":{"scale":{"color":"independent","strokeDash":"independent"},"legend":{"color":"independent","strokeDash":"independent"}}},
{"hconcat":[
{"vconcat":[{"width":200,"height":198,"title":{"text":"Locations per user","anchor":"middle","frame":"group","offset":8},
"layer":[
{"data":{"name":"nu"},"transform":[{"filter":"datum.p=='g'"}],"mark":{"type":"line","strokeWidth":2},"encoding":{
"x":{"field":"x","type":"quantitative","scale":{"domain":[0,120],"nice":false},"axis":{"values":[0,20,40,60,80,100,120],"labelFlush":false,"labelOverlap":false,"tickSize":4,"title":"Nᵤ","titlePadding":3}},
"y":{"field":"y","type":"quantitative","scale":{"domain":[0,0.08],"nice":false},"axis":{"values":[0,0.01,0.02,0.03,0.04,0.05,0.06,0.07,0.08],"format":".2f","labelFlush":false,"labelOverlap":false,"tickSize":4,"title":"P(Nᵤ)","titlePadding":1}},
"color":{"field":"s","type":"nominal","scale":{"domain":["GPS","MD+dEPR","MD+SWIM","MD+LATP"],"range":["#000000","#5c5c5c","#5c5c5c","#5c5c5c"]},"legend":{"title":null,"orient":"top-right"}},
"strokeDash":{"field":"s","type":"nominal","scale":{"domain":["GPS","MD+dEPR","MD+SWIM","MD+LATP"],"range":[[4,3],[1,0],[3,2,1,2],[5,3]]},"legend":{"title":null,"orient":"top-right"}}}},
{"data":{"name":"gpsN"},"mark":{"type":"line","strokeWidth":2},"encoding":{"x":{"field":"x","type":"quantitative","axis":null},"y":{"field":"y","type":"quantitative","axis":null},
"color":{"field":"s","type":"nominal","scale":{"domain":["GPS","MD+dEPR","MD+SWIM","MD+LATP"],"range":["#000000","#5c5c5c","#5c5c5c","#5c5c5c"]},"legend":{"title":null,"orient":"top-right"}},
"strokeDash":{"field":"s","type":"nominal","scale":{"domain":["GPS","MD+dEPR","MD+SWIM","MD+LATP"],"range":[[4,3],[1,0],[3,2,1,2],[5,3]]},"legend":{"title":null,"orient":"top-right"}}}},
{"data":{"name":"gpsN"},"mark":{"type":"square","size":30,"color":"#000000","opacity":1},"encoding":{"x":{"field":"x","type":"quantitative","axis":null},"y":{"field":"y","type":"quantitative","axis":null}}},
{"data":{"name":"gpsN"},"mark":{"type":"line","opacity":0},"encoding":{"x":{"field":"x","type":"quantitative","axis":{"orient":"top","values":[0,20,40,60,80,100,120],"labels":false,"grid":false,"title":null,"tickSize":4}},"y":{"field":"y","type":"quantitative","axis":{"orient":"right","values":[0,0.01,0.02,0.03,0.04,0.05,0.06,0.07,0.08],"labels":false,"grid":false,"title":null,"tickSize":4}}}}
],
"resolve":{"axis":{"x":"independent","y":"independent"}}}],
"resolve":{"scale":{"color":"independent","strokeDash":"independent"},"legend":{"color":"independent","strokeDash":"independent"}},
"title":{"text":"(g)","orient":"bottom","anchor":"middle","font":"Liberation Serif","fontWeight":"bold","fontSize":22,"color":"#111111","offset":6,"dx":20}},
{"vconcat":[{"width":201,"height":198,"title":{"text":"Locations per user","anchor":"middle","frame":"group","offset":8},
"layer":[
{"layer":[
{"data":{"name":"nu"},"transform":[{"filter":"datum.p=='h'"}],"mark":{"type":"line","strokeWidth":2},"encoding":{
"x":{"field":"x","type":"quantitative","scale":{"domain":[0,120],"nice":false},"axis":{"values":[0,20,40,60,80,100,120],"labelFlush":false,"labelOverlap":false,"tickSize":4,"title":"Nᵤ","titlePadding":3}},
"y":{"field":"y","type":"quantitative","scale":{"domain":[0,0.07],"nice":false},"axis":{"values":[0,0.01,0.02,0.03,0.04,0.05,0.06,0.07],"format":".2f","labelFlush":false,"labelOverlap":false,"tickSize":4,"title":"P(Nᵤ)","titlePadding":1}},
"color":{"field":"s","type":"nominal","scale":{"domain":["GPS","RD+dEPR","RD+SWIM","RD+LATP"],"range":["#000000","#5c5c5c","#5c5c5c","#5c5c5c"]},"legend":{"title":null,"orient":"top-right"}},
"strokeDash":{"field":"s","type":"nominal","scale":{"domain":["GPS","RD+dEPR","RD+SWIM","RD+LATP"],"range":[[4,3],[1,0],[3,2,1,2],[5,3]]},"legend":{"title":null,"orient":"top-right"}}}},
{"data":{"name":"gpsN"},"mark":{"type":"line","strokeWidth":2},"encoding":{"x":{"field":"x","type":"quantitative","axis":null},"y":{"field":"y","type":"quantitative","axis":null},
"color":{"field":"s","type":"nominal","scale":{"domain":["GPS","RD+dEPR","RD+SWIM","RD+LATP"],"range":["#000000","#5c5c5c","#5c5c5c","#5c5c5c"]},"legend":{"title":null,"orient":"top-right"}},
"strokeDash":{"field":"s","type":"nominal","scale":{"domain":["GPS","RD+dEPR","RD+SWIM","RD+LATP"],"range":[[4,3],[1,0],[3,2,1,2],[5,3]]},"legend":{"title":null,"orient":"top-right"}}}},
{"data":{"name":"gpsN"},"mark":{"type":"square","size":30,"color":"#000000","opacity":1},"encoding":{"x":{"field":"x","type":"quantitative","axis":null},"y":{"field":"y","type":"quantitative","axis":null}}},
{"data":{"name":"gpsN"},"mark":{"type":"line","opacity":0},"encoding":{"x":{"field":"x","type":"quantitative","axis":{"orient":"top","values":[0,20,40,60,80,100,120],"labels":false,"grid":false,"title":null,"tickSize":4}},"y":{"field":"y","type":"quantitative","axis":{"orient":"right","values":[0,0.01,0.02,0.03,0.04,0.05,0.06,0.07],"labels":false,"grid":false,"title":null,"tickSize":4}}}}
],"resolve":{"axis":{"x":"independent","y":"independent"}}},
{"layer":[
{"data":{"name":"insbg"},"transform":[{"filter":"datum.p=='h'"}],"mark":{"type":"rect","fill":"#f2f2f2","stroke":"#222222","strokeWidth":0.8},"encoding":{
"x":{"field":"x1","type":"quantitative","scale":{"domain":[0,800],"range":[66,145],"nice":false},"axis":{"orient":"bottom","offset":-40,"values":[0,100,200,300,400,500,600,700,800],"labelFontSize":4.5,"labelPadding":1,"tickSize":2,"grid":false,"title":null,"labelFlush":false,"labelOverlap":false}},
"x2":{"field":"x2"},
"y":{"field":"y1","type":"quantitative","scale":{"domain":[0,0.06],"range":[158,79],"nice":false},"axis":{"orient":"left","offset":-66,"values":[0,0.01,0.02,0.03,0.04,0.05,0.06],"format":".2f","labelFontSize":4.5,"labelPadding":1,"tickSize":2,"grid":false,"title":null,"labelFlush":false,"labelOverlap":false}},
"y2":{"field":"y2"}}},
{"data":{"name":"ins"},"transform":[{"filter":"datum.p=='h' && datum.s=='LATP'"}],"mark":{"type":"line","strokeWidth":1.8,"color":"#5c5c5c","strokeDash":[4,2.5]},"encoding":{"x":{"field":"x","type":"quantitative","axis":null},"y":{"field":"y","type":"quantitative","axis":null}}},
{"data":{"name":"ins"},"transform":[{"filter":"datum.p=='h' && datum.s=='SWIM'"}],"mark":{"type":"line","strokeWidth":1.8,"color":"#5c5c5c","strokeDash":[2,1.5,1,1.5]},"encoding":{"x":{"field":"x","type":"quantitative","axis":null},"y":{"field":"y","type":"quantitative","axis":null}}},
{"data":{"name":"insbg"},"transform":[{"filter":"datum.p=='h'"}],"mark":{"type":"point","opacity":0},"encoding":{"x":{"field":"x1","type":"quantitative","axis":{"orient":"top","offset":-79,"values":[0,100,200,300,400,500,600,700,800],"labels":false,"tickSize":2,"grid":false,"title":null}},"y":{"field":"y1","type":"quantitative","axis":{"orient":"right","offset":-56,"values":[0,0.01,0.02,0.03,0.04,0.05,0.06],"labels":false,"tickSize":2,"grid":false,"title":null}}}}
],"resolve":{"axis":{"x":"independent","y":"independent"}}}
],
"resolve":{"scale":{"x":"independent","y":"independent"},"axis":{"x":"independent","y":"independent"}}}],
"resolve":{"scale":{"color":"independent","strokeDash":"independent"},"legend":{"color":"independent","strokeDash":"independent"}},
"title":{"text":"(h)","orient":"bottom","anchor":"middle","font":"Liberation Serif","fontWeight":"bold","fontSize":22,"color":"#111111","offset":6,"dx":20}},
{"vconcat":[{"width":200,"height":198,"title":{"text":"Locations per user","anchor":"middle","frame":"group","offset":8},
"layer":[
{"layer":[
{"data":{"name":"nu"},"transform":[{"filter":"datum.p=='i'"}],"mark":{"type":"line","strokeWidth":2},"encoding":{
"x":{"field":"x","type":"quantitative","scale":{"domain":[0,120],"nice":false},"axis":{"values":[0,20,40,60,80,100,120],"labelFlush":false,"labelOverlap":false,"tickSize":4,"title":"Nᵤ","titlePadding":3}},
"y":{"field":"y","type":"quantitative","scale":{"domain":[0,0.07],"nice":false},"axis":{"values":[0,0.01,0.02,0.03,0.04,0.05,0.06,0.07],"format":".2f","labelFlush":false,"labelOverlap":false,"tickSize":4,"title":"P(Nᵤ)","titlePadding":1}},
"color":{"field":"s","type":"nominal","scale":{"domain":["GPS","WT+dEPR","WT+SWIM","WT+LATP"],"range":["#000000","#000000","#000000","#000000"]},"legend":{"title":null,"orient":"top-right"}},
"strokeDash":{"field":"s","type":"nominal","scale":{"domain":["GPS","WT+dEPR","WT+SWIM","WT+LATP"],"range":[[4,3],[1,0],[3,2,1,2],[5,3]]},"legend":{"title":null,"orient":"top-right"}}}},
{"data":{"name":"gpsN"},"mark":{"type":"line","strokeWidth":2},"encoding":{"x":{"field":"x","type":"quantitative","axis":null},"y":{"field":"y","type":"quantitative","axis":null},
"color":{"field":"s","type":"nominal","scale":{"domain":["GPS","WT+dEPR","WT+SWIM","WT+LATP"],"range":["#000000","#000000","#000000","#000000"]},"legend":{"title":null,"orient":"top-right"}},
"strokeDash":{"field":"s","type":"nominal","scale":{"domain":["GPS","WT+dEPR","WT+SWIM","WT+LATP"],"range":[[4,3],[1,0],[3,2,1,2],[5,3]]},"legend":{"title":null,"orient":"top-right"}}}},
{"data":{"name":"gpsN"},"mark":{"type":"square","size":30,"color":"#000000","opacity":1},"encoding":{"x":{"field":"x","type":"quantitative","axis":null},"y":{"field":"y","type":"quantitative","axis":null}}},
{"data":{"name":"gpsN"},"mark":{"type":"line","opacity":0},"encoding":{"x":{"field":"x","type":"quantitative","axis":{"orient":"top","values":[0,20,40,60,80,100,120],"labels":false,"grid":false,"title":null,"tickSize":4}},"y":{"field":"y","type":"quantitative","axis":{"orient":"right","values":[0,0.01,0.02,0.03,0.04,0.05,0.06,0.07],"labels":false,"grid":false,"title":null,"tickSize":4}}}}
],"resolve":{"axis":{"x":"independent","y":"independent"}}},
{"layer":[
{"data":{"name":"insbg"},"transform":[{"filter":"datum.p=='i'"}],"mark":{"type":"rect","fill":"#f2f2f2","stroke":"#222222","strokeWidth":0.8},"encoding":{
"x":{"field":"x1","type":"quantitative","scale":{"domain":[0,600],"range":[65,144],"nice":false},"axis":{"orient":"bottom","offset":-40,"values":[0,100,200,300,400,500,600],"labelFontSize":4.5,"labelPadding":1,"tickSize":2,"grid":false,"title":null,"labelFlush":false,"labelOverlap":false}},
"x2":{"field":"x2"},
"y":{"field":"y1","type":"quantitative","scale":{"domain":[0,0.04],"range":[158,79],"nice":false},"axis":{"orient":"left","offset":-65,"values":[0,0.005,0.01,0.015,0.02,0.025,0.03,0.035,0.04],"format":".3f","labelFontSize":4.5,"labelPadding":1,"tickSize":2,"grid":false,"title":null,"labelFlush":false,"labelOverlap":false}},
"y2":{"field":"y2"}}},
{"data":{"name":"ins"},"transform":[{"filter":"datum.p=='i' && datum.s=='LATP'"}],"mark":{"type":"line","strokeWidth":1.8,"color":"#000000","strokeDash":[4,2.5]},"encoding":{"x":{"field":"x","type":"quantitative","axis":null},"y":{"field":"y","type":"quantitative","axis":null}}},
{"data":{"name":"ins"},"transform":[{"filter":"datum.p=='i' && datum.s=='SWIM'"}],"mark":{"type":"line","strokeWidth":1.8,"color":"#000000","strokeDash":[2,1.5,1,1.5]},"encoding":{"x":{"field":"x","type":"quantitative","axis":null},"y":{"field":"y","type":"quantitative","axis":null}}},
{"data":{"name":"insbg"},"transform":[{"filter":"datum.p=='i'"}],"mark":{"type":"point","opacity":0},"encoding":{"x":{"field":"x1","type":"quantitative","axis":{"orient":"top","offset":-79,"values":[0,100,200,300,400,500,600],"labels":false,"tickSize":2,"grid":false,"title":null}},"y":{"field":"y1","type":"quantitative","axis":{"orient":"right","offset":-56,"values":[0,0.005,0.01,0.015,0.02,0.025,0.03,0.035,0.04],"labels":false,"tickSize":2,"grid":false,"title":null}}}}
],"resolve":{"axis":{"x":"independent","y":"independent"}}}
],
"resolve":{"scale":{"x":"independent","y":"independent"},"axis":{"x":"independent","y":"independent"}}}],
"resolve":{"scale":{"color":"independent","strokeDash":"independent"},"legend":{"color":"independent","strokeDash":"independent"}},
"title":{"text":"(i)","orient":"bottom","anchor":"middle","font":"Liberation Serif","fontWeight":"bold","fontSize":22,"color":"#111111","offset":6,"dx":20}}
],"spacing":18,"resolve":{"scale":{"color":"independent","strokeDash":"independent"},"legend":{"color":"independent","strokeDash":"independent"}}}
]
}
